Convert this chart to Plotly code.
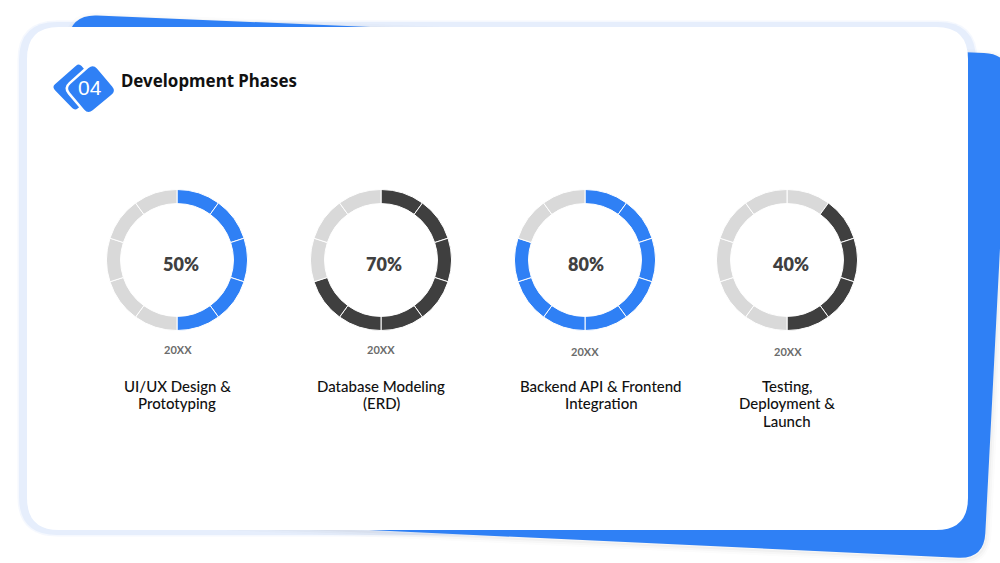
'''
Development phases slide: four progress rings on a white card
'''

import plotly.graph_objects as go

# Chart data
phases = [['UI/UX Design &', 'Prototyping'], ['Database Modeling', '(ERD)'],
          ['Backend API & Frontend', 'Integration'], ['Testing,', 'Deployment &', 'Launch']]
percents = [50, 70, 80, 40]
years = ['20XX', '20XX', '20XX', '20XX']
segment_sizes = [1, 1, 1, 1, 1, 1, 1, 1, 1, 1]
first_filled = [0, 0, 0, 1]  # the last ring starts one segment late

# Look
ring_colors = ['#2f80f5', '#3f3f3f', '#2f80f5', '#3f3f3f']
empty_color = '#d9d9d9'
ring_x = [177, 381, 585, 787]
ring_y = [260, 260, 260, 260]
ring_r = 70.5
pct_x = [181, 384, 586, 790]
year_x = [178, 381, 585, 788]
year_y = [349, 349, 351, 351]
label_x = [177, 381, 601, 787]
label_y = [385.8, 403.4, 421.2]
W, H = 1000, 563


def px(x):
    return x / W


def py(y):
    return 1 - y / H


def path(points, radius):
    # closed polygon with rounded corners, points given in pixels
    n = len(points)
    d = ''
    for i in range(n):
        x0, y0 = points[i - 1]
        x1, y1 = points[i]
        x2, y2 = points[(i + 1) % n]
        len_a = ((x1 - x0) ** 2 + (y1 - y0) ** 2) ** 0.5
        len_b = ((x2 - x1) ** 2 + (y2 - y1) ** 2) ** 0.5
        ax = x1 + (x0 - x1) * radius / len_a
        ay = y1 + (y0 - y1) * radius / len_a
        bx = x1 + (x2 - x1) * radius / len_b
        by = y1 + (y2 - y1) * radius / len_b
        d += f'{"M" if i == 0 else "L"}{px(ax):.5f},{py(ay):.5f} '
        d += f'Q{px(x1):.5f},{py(y1):.5f} {px(bx):.5f},{py(by):.5f} '
    return d + 'Z'


def shape(points, radius, fill, line=None, width=0):
    return dict(type='path', xref='paper', yref='paper', layer='below',
                path=path(points, radius), fillcolor=fill,
                line=dict(color=line or 'rgba(0,0,0,0)', width=width))


back = [(71, 14.4), (1010, 54), (984, 559), (200, 522), (60, 100)]
back_shadow = [(p[0] + 1, p[1] + 2) for p in back]
card = [(27, 27), (968, 27), (968, 530), (27, 530)]
glow = [(19, 22), (976, 22), (976, 535), (19, 535)]
icon_back = [(79, 63), (52, 87), (75, 111), (100, 88)]
icon_front = [(93, 64), (116, 91), (88, 114), (66, 88)]

shapes = []
# pale glow round the card, it stays under the blue sheet
shapes.append(shape(glow, 38, 'rgba(0,0,0,0)', 'rgba(230,238,252,0.4)', 3))
shapes.append(shape(glow, 38, '#e6eefc'))
# soft shadow behind the blue sheet
for grow, alpha in [(5, 0.015), (3, 0.025), (1, 0.035)]:
    shapes.append(shape(back_shadow, 26, 'rgba(0,0,0,0)', f'rgba(60,60,60,{alpha})', grow * 2))
shapes.append(shape(back, 26, '#2f80f5'))
shapes.append(shape(card, 32, 'white'))
# section number badge
shapes.append(shape(icon_back, 4, '#2f80f5'))
shapes.append(shape(icon_front, 6, 'white', 'white', 5))
shapes.append(shape(icon_front, 6, '#2f80f5'))

fig = go.Figure()

for i in range(len(percents)):
    filled = percents[i] // 10
    colors = []
    for s in range(len(segment_sizes)):
        on = first_filled[i] <= s < first_filled[i] + filled
        colors.append(ring_colors[i] if on else empty_color)
    fig.add_trace(go.Pie(values=segment_sizes,
                         sort=False,
                         direction='clockwise',
                         rotation=0,
                         hole=0.8,
                         textinfo='none',
                         hoverinfo='skip',
                         showlegend=False,
                         marker=dict(colors=colors, line=dict(color='white', width=1)),
                         domain=dict(x=[px(ring_x[i] - ring_r), px(ring_x[i] + ring_r)],
                                     y=[py(ring_y[i] + ring_r), py(ring_y[i] - ring_r)])))

annotations = [dict(text='Development Phases', x=px(121), y=py(80), xanchor='left',
                    font=dict(family='Noto Sans', size=16.9, color='#111111', weight='bold')),
               dict(text='04', x=px(90), y=py(87.5), xanchor='center',
                    font=dict(family='Liberation Sans', size=21, color='white'))]

for i in range(len(percents)):
    annotations.append(dict(text=f'{percents[i]}%', x=px(pct_x[i]), y=py(264), xanchor='center',
                            font=dict(family='Lato', size=18, color='#404040', weight=800)))
    annotations.append(dict(text=years[i], x=px(year_x[i]), y=py(year_y[i]), xanchor='center',
                            font=dict(family='Lato', size=11, color='#6b6b6b', weight='bold')))
    for line, text in enumerate(phases[i]):
        annotations.append(dict(text=text, x=px(label_x[i]), y=py(label_y[line]), xanchor='center',
                                font=dict(family='Lato', size=15, color='#111111', weight=500)))

for a in annotations:
    a.update(xref='paper', yref='paper', yanchor='middle', showarrow=False, borderpad=0, borderwidth=0)

fig.update_layout(width=W, height=H,
                  margin=dict(l=0, r=0, t=0, b=0),
                  paper_bgcolor='white',
                  plot_bgcolor='white',
                  shapes=shapes,
                  annotations=annotations)

# the page default body margin would push the fixed-size figure off the window
fig.write_html("out.html", config=dict(displayModeBar=False),
               post_script="document.body.style.margin='0';document.documentElement.style.overflow='hidden';")
